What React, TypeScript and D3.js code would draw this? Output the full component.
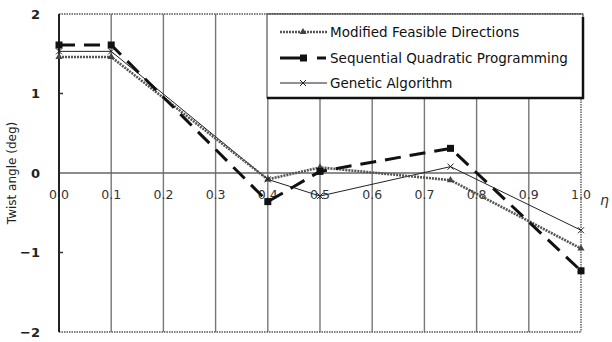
import React from "react";
import * as d3 from "d3";

const etaStations = [0.0, 0.1, 0.4, 0.5, 0.75, 1.0];
const mfdValues = [1.46, 1.46, -0.08, 0.07, -0.09, -0.95];
const sqpValues = [1.61, 1.61, -0.36, 0.02, 0.31, -1.23];
const gaValues = [1.53, 1.53, -0.08, -0.29, 0.08, -0.72];

const xTicks = [0, 0.1, 0.2, 0.3, 0.4, 0.5, 0.6, 0.7, 0.8, 0.9, 1.0];
const yTicks = [2, 1, 0, -1, -2];
const legendNames = [
  "Modified Feasible Directions",
  "Sequential Quadratic Programming",
  "Genetic Algorithm",
];

const W = 612;
const H = 342;
const margin = { top: 14, right: 31, bottom: 10, left: 59 };
const font = "'DejaVu Sans', Arial, sans-serif";

const App = () => {
  const x = d3.scaleLinear().domain([0, 1]).range([margin.left, W - margin.right]);
  const y = d3.scaleLinear().domain([-2, 2]).range([H - margin.bottom, margin.top]);

  const toPts = (vals: number[]) => etaStations.map((e, i) => [e, vals[i]] as [number, number]);
  const line = d3
    .line<[number, number]>()
    .x((d) => x(d[0]))
    .y((d) => y(d[1]));

  const tri = d3.symbol().type(d3.symbolTriangle).size(22)();

  const legendX = 267;
  const legendRows = [32, 58, 83];

  return (
    <svg width={W} height={H} style={{ position: "absolute", left: 0, top: 0, background: "#fff" }}>
      {/* vertical grid */}
      {xTicks.slice(1, -1).map((t) => (
        <line key={t} x1={x(t)} x2={x(t)} y1={y(2)} y2={y(-2)} stroke="#777" strokeWidth={1.4} />
      ))}
      {/* zero line */}
      <line x1={x(0)} x2={x(1)} y1={y(0)} y2={y(0)} stroke="#666" strokeWidth={1.4} />
      {/* dotted borders */}
      <line x1={x(0)} x2={x(1)} y1={y(2)} y2={y(2)} stroke="#555" strokeWidth={1.4} strokeDasharray="1.5 1" />
      <line x1={x(0)} x2={x(1)} y1={y(-2)} y2={y(-2)} stroke="#555" strokeWidth={1.4} strokeDasharray="1.5 1" />
      <line x1={x(1)} x2={x(1)} y1={y(2)} y2={y(-2)} stroke="#555" strokeWidth={1.4} strokeDasharray="1.5 1" />
      {/* left axis */}
      <line x1={x(0)} x2={x(0)} y1={y(2)} y2={y(-2)} stroke="#222" strokeWidth={2} />
      {[1, -1].map((t) => (
        <line key={t} x1={x(0)} x2={x(0) + 4} y1={y(t)} y2={y(t)} stroke="#333" strokeWidth={1.5} />
      ))}
      {yTicks.map((t) => (
        <text key={t} x={40} y={y(t) + 4.5} textAnchor="end" fontFamily={font} fontSize={13} fontWeight="bold" fill="#222">
          {t < 0 ? `\u2212${Math.abs(t)}` : t}
        </text>
      ))}
      {xTicks.map((t) => (
        <text key={t} x={x(t)} y={199} textAnchor="middle" fontFamily={font} fontSize={12.5} fill="#333">
          {t.toFixed(1)}
        </text>
      ))}
      <text x={600} y={205} fontFamily={font} fontSize={14} fontStyle="italic" fill="#333">
        η
      </text>
      <text
        transform={`translate(16,${y(0)}) rotate(-90)`}
        textAnchor="middle"
        fontFamily={font}
        fontSize={12}
        fill="#222"
      >
        Twist angle (deg)
      </text>

      {/* series */}
      <path d={line(toPts(gaValues)) || ""} fill="none" stroke="#222" strokeWidth={1} />
      <path d={line(toPts(mfdValues)) || ""} fill="none" stroke="#555" strokeWidth={2.6} strokeDasharray="2 1" />
      <path d={line(toPts(sqpValues)) || ""} fill="none" stroke="#111" strokeWidth={3} strokeDasharray="16 9" />
      {etaStations.map((e, i) => (
        <path key={"m" + i} d={tri || ""} transform={`translate(${x(e)},${y(mfdValues[i])})`} fill="#444" />
      ))}
      {etaStations.map((e, i) => (
        <rect key={"s" + i} x={x(e) - 3.5} y={y(sqpValues[i]) - 3.5} width={7} height={7} fill="#111" />
      ))}
      {etaStations.map((e, i) => (
        <path
          key={"g" + i}
          d={`M${x(e) - 3},${y(gaValues[i]) - 3}L${x(e) + 3},${y(gaValues[i]) + 3}M${x(e) - 3},${y(gaValues[i]) + 3}L${x(e) + 3},${y(gaValues[i]) - 3}`}
          stroke="#222"
          strokeWidth={1}
        />
      ))}

      {/* legend */}
      <rect x={legendX} y={y(2)} width={583 - legendX} height={98 - y(2)} fill="#fff" stroke="#333" strokeWidth={1} />
      <line x1={legendX} x2={584} y1={98} y2={98} stroke="#111" strokeWidth={2.5} />
      <line x1={583} x2={583} y1={y(2) + 3} y2={99} stroke="#111" strokeWidth={2.5} />
      <line x1={legendX} x2={583} y1={y(2)} y2={y(2)} stroke="#555" strokeWidth={1.4} strokeDasharray="1.5 1" />

      <line x1={280} x2={327} y1={legendRows[0]} y2={legendRows[0]} stroke="#555" strokeWidth={2.4} strokeDasharray="2 1" />
      <path d={tri || ""} transform={`translate(303,${legendRows[0]})`} fill="#444" />

      <line x1={280} x2={302} y1={legendRows[1]} y2={legendRows[1]} stroke="#111" strokeWidth={3} />
      <rect x={300} y={legendRows[1] - 3.5} width={7} height={7} fill="#111" />
      <line x1={317} x2={326} y1={legendRows[1]} y2={legendRows[1]} stroke="#111" strokeWidth={3} />

      <line x1={280} x2={327} y1={legendRows[2]} y2={legendRows[2]} stroke="#222" strokeWidth={1} />
      <path d={`M300,${legendRows[2] - 3}L306,${legendRows[2] + 3}M300,${legendRows[2] + 3}L306,${legendRows[2] - 3}`} stroke="#222" strokeWidth={1} />

      {legendNames.map((n, i) => (
        <text key={n} x={330} y={legendRows[i] + 4.5} fontFamily={font} fontSize={13.5} fill="#111">
          {n}
        </text>
      ))}
    </svg>
  );
};

export default App;
